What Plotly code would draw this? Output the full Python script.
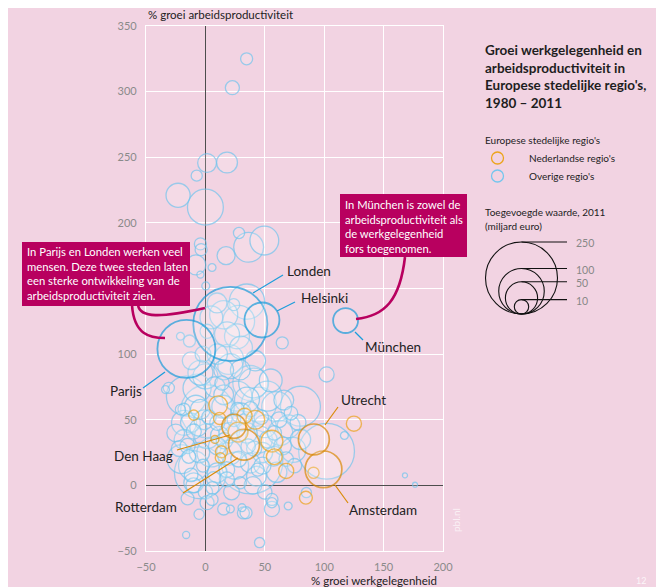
import plotly.graph_objects as go
import numpy as np

# ---------------- data ----------------
# Overige regio's: x = % groei werkgelegenheid, y = % groei arbeidsproductiviteit, v = toegevoegde waarde (mld euro)
other_x = [34.7, 22.7, 1.4, 18.2, -7.3, -23, 0, 49.6, 36.4, 28.3, 17.4, -4.2, -3.6, -8, 5.6, -4.2, 0.3,
           -21, -13.4, 64.7, 102, -30.8, 168, 176.5, 117, 102, -16.2, 45.6, 34.2, 56, 69.7, 30.8, -5.3,
           1.4, -9.8, 56, 85, 15.4, 21, 32, 5.6, 29.4, 18, 43, 10,
           9.8, 23.8, 15.4, 28, 18.2, 1.4, 26.6, 5, 35,
           19.6, 0, 37.8, 15.4, -7, 29.4, 21, 40.6, -4.2, -16, 26.6, 60, 80, 66, 74, 45, 1.4,
           -33.6, -18, -9.8, -15, -10, -10, 56, 52, 35, 15.4, -4.2, 63, 57.4, 37.8, 1.4, 10, -1.4,
           -18, -21, -12.6, -18, -4.2, 38, -20, 5, 20, 45, 50, 30, 15, 25, 60, 70, -5, 10, 40, 48,
           -25, 8, 55, -12, 10, 30, 42, -2, 65, 80, 0, 22, 50, -15, 75, 35, 20, -8,
           -22, -14, -6, 3, 12, 18, 27, 33, 41, 47, 53, 62, 68, 72, 78, -2, 7, 16, 24, 38, 44, 58,
           -12, 6, 28, 36, 48, 14]
other_y = [325, 303, 245.6, 246, 236, 221, 212, 186.5, 181.4, 192.3, 175, 184, 179.6, 168, 166, 160.6, 152,
           113.6, 110, 108.6, 84.5, 74.3, 7.6, 0.5, 38, 26, -37.8, -43.6, -20.8, -13.2, -15.7, -17, -22,
           -13.2, 2, -18, -5.5, -18, -18, -21, -10.7, 2, 4.6, 7, 9.6,
           139, 137.7, 130, 125, 115, 117.4, 113.6, 128, 140,
           96, 83, 78, 88, 74, 88, 90.8, 78, 85.8, 68, 68, 60, 60.3, 65, 27, 61.6, 56.5,
           73, 58, 41, 30, 15, 0, -10.7, 68, 65.4, 69, 58, 40, 22.3, 17, 37.5, 47.7, 50,
           47.7, 57.8, 47.7, 35, 9.6, 18, 20, 25, 25, 35, 45, 55, 60, 15, 10, 45, 25, 30, 0, 25,
           40, 75, 80, 95, 100, 105, 95, 100, 30, 35, -5, -5, -5, -10, 15, 40, 40, 60,
           28, 22, 44, 52, 38, 12, 58, 48, 28, 52, 35, 50, 20, 55, 48, 15, 5, 34, 50, 58, 12, 40,
           8, -2, 20, 30, 15, 78]
other_v = [7, 9.5, 17, 21, 6, 28, 62, 40, 43, 6, 15.6, 7, 7, 19, 3, 2.4, 3,
           3, 7, 7, 11, 6, 1.2, 1.2, 3, 150, 2.4, 5, 7, 5, 3, 3, 5,
           9.5, 19, 11, 5, 7, 3, 7, 7, 7, 11, 19, 19,
           19, 7, 38, 49, 30, 9.5, 30, 25, 60,
           43, 30, 59, 19, 38, 19, 30, 43, 30, 77, 43, 43, 77, 19, 30, 59, 135,
           3, 7, 11, 11, 43, 11, 7, 43, 30, 19, 19, 30, 19, 19, 30, 11, 19,
           30, 5, 19, 19, 130, 200, 40, 40, 30, 35, 25, 20, 25, 35, 20, 25, 20, 15, 15, 20,
           15, 20, 25, 15, 20, 25, 20, 12, 15, 20, 10, 12, 10, 8, 10, 20, 20, 25,
           12, 9, 14, 10, 16, 12, 9, 14, 11, 10, 15, 12, 10, 9, 12, 8, 10, 13, 9, 11, 8, 10,
           9, 8, 12, 10, 14, 10]

# Nederlandse regio's
nl_x = [10.7, -9.8, 12, 33, 42, 27.5, 8, 56, 13.5, 12.6, 58, 68, 91, 84.6, 125]
nl_y = [61, 53.5, 51, 53, 50, 40.6, 35, 33.7, 25.6, 21, 21.8, 11, 9.6, -9.4, 47]
nl_v = [17, 5, 7, 11, 17, 19, 3, 23, 7, 5, 12, 11, 6, 8, 11]

# named regions
named_nl = ["Utrecht", "Amsterdam", "Rotterdam", "Den Haag"]
named_nl_x = [91.3, 99.4, 32.5, 24]
named_nl_y = [35, 12.2, 31, 45]
named_nl_v = [46, 65, 46, 28]

named_eu = ["Londen", "Parijs", "Helsinki", "München"]
named_eu_x = [21, -16, 47.6, 118]
named_eu_y = [123, 104, 126, 125.6]
named_eu_v = [265, 162, 59, 30]

x_ticks = [-50, 0, 50, 100, 150, 200]
y_ticks = [-50, 0, 50, 100, 150, 200, 250, 300, 350]
size_legend = [250, 100, 50, 10]

# ---------------- layout helpers ----------------
OFF = 8                      # page body margin of the browser
W, H = 664 - OFF, 587 - OFF  # figure size
L, R, T, B = 146, 443, 26, 551   # plot area in page pixels
MAXD = 72.0


def diam(v):
    return [MAXD * np.sqrt(a / 250.0) for a in v]


def px(x):
    return (x - L) / (R - L)


def py(y):
    return (B - y) / (B - T)


BG = "#f2d3e2"
LIGHTBLUE = "#74c6ee"
BLUE = "#1a9ddb"
ORANGE = "#eca41c"
DORANGE = "#d98a06"
MAGENTA = "#b8005f"
FILL = "rgba(255,255,255,0.26)"
FONT = "Lato"

fig = go.Figure()


def add_bubbles(xs, ys, vs, color, lw):
    order = np.argsort(vs)[::-1]
    ds = diam(vs)
    fig.add_trace(go.Scatter(
        x=[xs[i] for i in order], y=[ys[i] for i in order], mode="markers",
        marker=dict(size=[ds[i] for i in order], sizemode="diameter",
                    color=FILL, line=dict(color=color, width=lw)),
        hoverinfo="skip", showlegend=False))


add_bubbles(other_x, other_y, other_v, LIGHTBLUE, 1.3)
add_bubbles(nl_x, nl_y, nl_v, ORANGE, 1.4)
add_bubbles(named_nl_x, named_nl_y, named_nl_v, DORANGE, 1.7)
add_bubbles(named_eu_x, named_eu_y, named_eu_v, BLUE, 1.8)

shapes = []
annotations = []


def note(text, x, y, size, color="#222", xanchor="left", yanchor="middle", **kw):
    annotations.append(dict(text=text, x=px(x), y=py(y), xref="paper", yref="paper",
                            xanchor=xanchor, yanchor=yanchor, showarrow=False, align="left",
                            borderpad=0, font=dict(family=FONT, size=size, color=color), **kw))


# leader lines for labels
leaders = [
    ((283, 275), (253, 293), BLUE), ((295, 302), (277, 311), BLUE),
    ((143, 388), (165, 372), BLUE), ((355, 332), (363, 340), BLUE),
    ((338, 407), (325, 425), DORANGE), ((335, 485), (348, 503), DORANGE),
    ((177, 450), (230, 435), DORANGE), ((183, 493), (238, 458), DORANGE),
]
for (x0, y0), (x1, y1), c in leaders:
    shapes.append(dict(type="line", xref="paper", yref="paper", x0=px(x0), y0=py(y0),
                       x1=px(x1), y1=py(y1), line=dict(color=c, width=1.2)))

labels = [("Londen", 286, 271), ("Helsinki", 300, 298), ("München", 364, 347),
          ("Parijs", 109, 391), ("Utrecht", 340, 400), ("Den Haag", 113, 456),
          ("Rotterdam", 114, 507), ("Amsterdam", 348, 510)]
for t, x, y in labels:
    note(t, x, y, 13.5, "#222")

# magenta callout boxes
shapes.append(dict(type="rect", xref="paper", yref="paper", x0=px(22), x1=px(190),
                   y0=py(306), y1=py(242), fillcolor=MAGENTA, line=dict(width=0)))
shapes.append(dict(type="rect", xref="paper", yref="paper", x0=px(340), x1=px(467),
                   y0=py(257), y1=py(194), fillcolor=MAGENTA, line=dict(width=0)))


def path(pts):
    s = "M %f,%f " % (px(pts[0][0]), py(pts[0][1]))
    s += "C " + " ".join("%f,%f" % (px(a), py(b)) for a, b in pts[1:])
    return s


shapes.append(dict(type="path", xref="paper", yref="paper",
                   path=path([(138, 305), (140, 318), (160, 318), (205, 308)]),
                   line=dict(color=MAGENTA, width=2.6)))
shapes.append(dict(type="path", xref="paper", yref="paper",
                   path=path([(132, 305), (134, 335), (150, 338), (165, 338)]),
                   line=dict(color=MAGENTA, width=2.6)))
shapes.append(dict(type="path", xref="paper", yref="paper",
                   path=path([(405, 257), (400, 300), (385, 316), (356, 319)]),
                   line=dict(color=MAGENTA, width=2.6)))

box1 = ["In Parijs en Londen werken veel", "mensen. Deze twee steden laten",
        "een sterke ontwikkeling van de", "arbeidsproductiviteit zien."]
note("<br>".join(box1), 26, 273.5, 11.3, "white")
box2 = ["In München is zowel de", "arbeidsproductiviteit als",
        "de werkgelegenheid", "fors toegenomen."]
note("<br>".join(box2), 344, 226, 11.2, "white")

# axis titles
note("% groei arbeidsproductiviteit", 147, 15, 11.5)
note("% groei werkgelegenheid", 438, 580, 11.5, xanchor="right")

# title
title = ["Groei werkgelegenheid en", "arbeidsproductiviteit in",
         "Europese stedelijke regio's,", "1980 – 2011"]
note("<b>" + "<br>".join(title) + "</b>", 484, 76.5, 13.5, "#1e1e1e")

# legend
note("Europese stedelijke regio's", 484, 140, 10)
for (t, c, y) in [("Nederlandse regio's", ORANGE, 158), ("Overige regio's", LIGHTBLUE, 176)]:
    shapes.append(dict(type="circle", xref="paper", yref="paper", x0=px(491.5), x1=px(503.5),
                       y0=py(y + 6), y1=py(y - 6), line=dict(color=c, width=1.3)))
    note(t, 528, y, 10)

note("Toegevoegde waarde, 2011", 484, 212, 10)
note("(miljard euro)", 484, 226, 10)
cx, by = 521.5, 314
for v in size_legend:
    d = MAXD * np.sqrt(v / 250.0)
    shapes.append(dict(type="circle", xref="paper", yref="paper", x0=px(cx - d / 2), x1=px(cx + d / 2),
                       y0=py(by), y1=py(by - d), line=dict(color="#111", width=1.1)))
    shapes.append(dict(type="line", xref="paper", yref="paper", x0=px(cx), x1=px(567),
                       y0=py(by - d), y1=py(by - d), line=dict(color="#111", width=1.1)))
    note(str(v), 575, by - d + 1.5, 10.5, "#888")

# misc page text
note("pbl.nl", 456, 520, 10, "rgba(255,255,255,0.7)", xanchor="center", textangle=-90)
note("12", 641, 580, 9, "rgba(255,255,255,0.8)", xanchor="center")
note("d", 0, 225, 11, "#333")
note("t", 0, 456, 11, "#333")

axis_common = dict(showgrid=True, gridcolor="white", gridwidth=1.2, zeroline=True,
                   zerolinecolor="#4d4d4d", zerolinewidth=1.4, showline=True, linecolor="white",
                   linewidth=1.2, mirror=True, ticks="",
                   tickfont=dict(family=FONT, size=11, color="#8a8a8a"))

fig.update_layout(
    width=W, height=H,
    margin=dict(l=L - OFF, r=W - (R - OFF), t=T - OFF, b=H - (B - OFF), pad=0),
    paper_bgcolor=BG, plot_bgcolor=BG,
    xaxis=dict(range=[-50, 200], tickvals=x_ticks, ticklabelstandoff=6, **axis_common),
    yaxis=dict(range=[-50, 350], tickvals=y_ticks, ticklabelstandoff=6, **axis_common),
    shapes=shapes, annotations=annotations, showlegend=False,
)

fig.write_html("out.html")
